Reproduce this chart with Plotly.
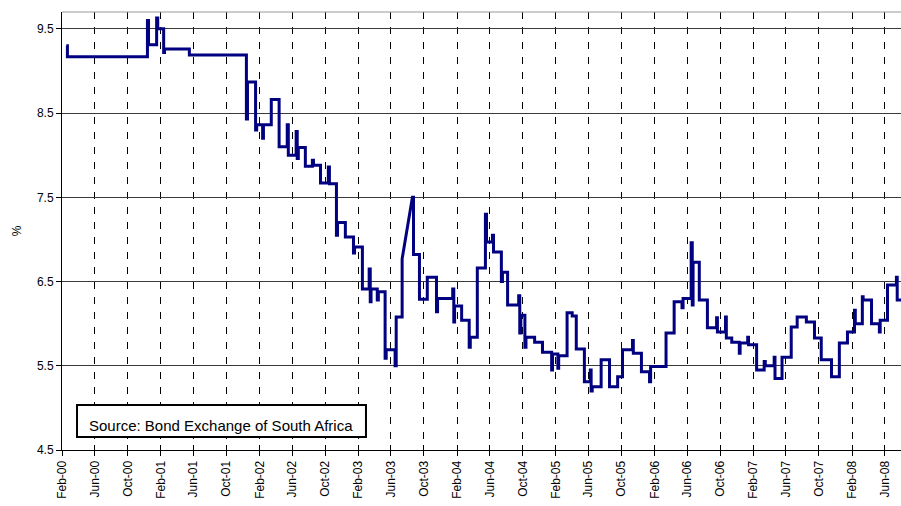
import plotly.graph_objects as go

# ---- data (step series: value holds until next date) ----
step_dates = [
    "2000-02-17", "2000-02-21", "2000-12-13", "2000-12-17", "2001-01-16", "2001-01-20",
    "2001-02-11", "2001-02-14", "2001-05-17", "2001-12-14", "2001-12-18", "2002-01-17",
    "2002-01-21", "2002-02-12", "2002-02-15", "2002-03-16", "2002-04-14", "2002-05-14",
    "2002-05-18", "2002-06-16", "2002-06-20", "2002-06-24", "2002-07-20", "2002-08-15",
    "2002-08-19", "2002-09-14", "2002-10-13", "2002-10-17", "2002-11-12", "2002-11-16",
    "2002-12-15", "2003-01-14", "2003-01-18", "2003-02-16", "2003-03-13", "2003-03-17",
    "2003-03-20", "2003-04-12", "2003-04-16", "2003-05-11", "2003-05-15", "2003-06-17",
    "2003-06-21", "2003-07-13", "2003-08-20", "2003-08-24", "2003-09-15", "2003-10-14",
    "2003-11-17", "2003-11-21", "2004-01-16", "2004-01-20", "2004-01-23", "2004-02-18",
    "2004-03-17", "2004-03-21", "2004-04-16", "2004-05-16", "2004-05-20", "2004-06-11",
    "2004-06-15", "2004-07-14", "2004-07-18", "2004-08-06", "2004-09-16", "2004-09-20",
    "2004-09-24", "2004-10-09", "2004-10-13", "2004-11-14", "2004-12-13", "2005-01-16",
    "2005-01-19", "2005-02-08", "2005-02-11", "2005-03-14", "2005-04-02", "2005-04-17",
    "2005-05-17", "2005-06-08", "2005-06-11", "2005-06-15", "2005-07-18", "2005-08-18",
    "2005-09-17", "2005-10-05", "2005-11-11", "2005-11-14", "2005-12-14", "2006-01-13",
    "2006-01-17", "2006-03-15", "2006-04-14", "2006-05-13", "2006-05-17", "2006-06-16",
    "2006-06-20", "2006-06-23", "2006-07-16", "2006-08-15", "2006-09-18", "2006-09-21",
    "2006-10-21", "2006-10-24", "2006-11-13", "2006-12-11", "2006-12-14", "2007-01-11",
    "2007-01-14", "2007-02-13", "2007-03-13", "2007-03-17", "2007-04-19", "2007-04-22",
    "2007-05-18", "2007-06-21", "2007-07-13", "2007-08-16", "2007-09-15", "2007-10-10",
    "2007-11-17", "2007-12-16", "2008-01-15", "2008-02-10", "2008-02-13", "2008-03-10",
    "2008-03-13", "2008-04-13", "2008-05-12", "2008-05-15", "2008-06-11", "2008-07-14",
    "2008-07-17", "2008-07-31",
]
step_values = [
    9.30, 9.17, 9.60, 9.31, 9.63, 9.50,
    9.22, 9.26, 9.19, 8.43, 8.87, 8.30,
    8.36, 8.20, 8.36, 8.66, 8.10, 8.36,
    8.00, 8.28, 7.96, 8.09, 7.87, 7.94,
    7.88, 7.67, 7.86, 7.66, 7.05, 7.20,
    7.03, 6.84, 6.91, 6.41, 6.65, 6.26,
    6.41, 6.28, 6.38, 5.59, 5.69, 5.50,
    6.08, 6.77, 7.50, 6.82, 6.29, 6.55,
    6.14, 6.30, 6.41, 6.02, 6.21, 6.04,
    5.72, 5.84, 6.66, 7.30, 6.97, 7.05,
    6.85, 6.50, 6.61, 6.22, 6.33, 5.89,
    6.10, 5.72, 5.84, 5.78, 5.66, 5.45,
    5.64, 5.47, 5.62, 6.13, 6.09, 5.70,
    5.31, 5.45, 5.20, 5.25, 5.57, 5.25,
    5.37, 5.69, 5.80, 5.65, 5.43, 5.31,
    5.49, 5.89, 6.26, 6.19, 6.30, 6.96,
    6.22, 6.73, 6.28, 5.95, 6.07, 5.90,
    6.08, 5.83, 5.78, 5.65, 5.77, 5.84,
    5.75, 5.45, 5.55, 5.50, 5.60, 5.35,
    5.60, 5.96, 6.08, 6.02, 5.83, 5.57,
    5.37, 5.77, 5.90, 6.16, 6.00, 6.32,
    6.28, 6.00, 5.90, 6.04, 6.46, 6.55,
    6.28, 6.28,
]
# segments starting at these dates are drawn as a straight ramp rather than a step
ramp_starts = ["2003-07-13"]

tick_dates = [
    "2000-02-01", "2000-06-01", "2000-10-01", "2001-02-01", "2001-06-01", "2001-10-01",
    "2002-02-01", "2002-06-01", "2002-10-01", "2003-02-01", "2003-06-01", "2003-10-01",
    "2004-02-01", "2004-06-01", "2004-10-01", "2005-02-01", "2005-06-01", "2005-10-01",
    "2006-02-01", "2006-06-01", "2006-10-01", "2007-02-01", "2007-06-01", "2007-10-01",
    "2008-02-01", "2008-06-01",
]
tick_labels = [
    "Feb-00", "Jun-00", "Oct-00", "Feb-01", "Jun-01", "Oct-01",
    "Feb-02", "Jun-02", "Oct-02", "Feb-03", "Jun-03", "Oct-03",
    "Feb-04", "Jun-04", "Oct-04", "Feb-05", "Jun-05", "Oct-05",
    "Feb-06", "Jun-06", "Oct-06", "Feb-07", "Jun-07", "Oct-07",
    "Feb-08", "Jun-08",
]
y_ticks = [4.5, 5.5, 6.5, 7.5, 8.5, 9.5]
y_title = "%"
source_text = "Source: Bond Exchange of South Africa"

# ---- build the drawn polyline (steps, with ramps where marked) ----
xs, ys = [], []
for i, (d, v) in enumerate(zip(step_dates, step_values)):
    xs.append(d)
    ys.append(v)
    if i + 1 < len(step_dates) and d not in ramp_starts:
        xs.append(step_dates[i + 1])
        ys.append(v)

FONT = "Liberation Sans, Arial, sans-serif"

fig = go.Figure()
fig.add_trace(go.Scatter(x=xs, y=ys, mode="lines",
                         line=dict(color="#000080", width=3),
                         hoverinfo="skip", showlegend=False))
# helper trace for the overlay axis carrying inside tick marks
fig.add_trace(go.Scatter(x=[tick_dates[0]], y=[y_ticks[0]], mode="markers",
                         marker=dict(opacity=0), xaxis="x2", showlegend=False,
                         hoverinfo="skip"))

x_range = ["2000-02-01", "2008-07-31"]
fig.update_layout(
    width=901, height=506,
    margin=dict(l=62, r=0, t=12, b=56, autoexpand=False),
    paper_bgcolor="white", plot_bgcolor="white",
    font=dict(family=FONT, size=12, color="black"),
    xaxis=dict(
        type="date", range=x_range, automargin=False,
        tickmode="array", tickvals=tick_dates, ticktext=tick_labels,
        tickangle=-90, tickfont=dict(size=12, family=FONT),
        showgrid=True, gridcolor="black", gridwidth=1, griddash="7px,8px",
        showline=True, linecolor="black", linewidth=1,
        ticks="outside", ticklen=5, tickcolor="black", tickwidth=1,
        zeroline=False, fixedrange=True,
    ),
    xaxis2=dict(
        type="date", range=x_range, overlaying="x", anchor="y", side="bottom",
        tickmode="array", tickvals=tick_dates, showticklabels=False,
        ticks="inside", ticklen=5, tickcolor="black", tickwidth=1,
        showgrid=False, showline=False, zeroline=False, automargin=False,
    ),
    yaxis=dict(
        range=[4.5, 9.7], tickmode="array", tickvals=y_ticks, automargin=False,
        ticktext=[f"{t:.1f}" for t in y_ticks],
        tickfont=dict(size=12, family=FONT),
        showgrid=True, gridcolor="#3a3a3a", gridwidth=1,
        showline=True, linecolor="black", linewidth=1,
        ticks="outside", ticklen=5, tickcolor="black", tickwidth=1,
        zeroline=False,
        title=dict(text=y_title, font=dict(size=12, family=FONT), standoff=12),
    ),
    shapes=[
        dict(type="line", xref="paper", yref="paper", x0=0, x1=1, y0=1, y1=1,
             line=dict(color="#999999", width=1)),
        dict(type="rect", xref="paper", yref="paper",
             x0=0.0179, x1=0.3623, y0=0.0297, y1=0.1027,
             line=dict(color="black", width=2), fillcolor="white", layer="above"),
    ],
    annotations=[
        dict(text=source_text, xref="paper", yref="paper", x=0.19, y=0.056,
             showarrow=False, xanchor="center", yanchor="middle",
             font=dict(family="Liberation Sans, Arial, sans-serif",
                       size=15, color="black")),
    ],
)

fig.write_html("out.html",
               config={"displayModeBar": False},
               post_script="document.body.style.margin='0';document.body.style.overflow='hidden';")
